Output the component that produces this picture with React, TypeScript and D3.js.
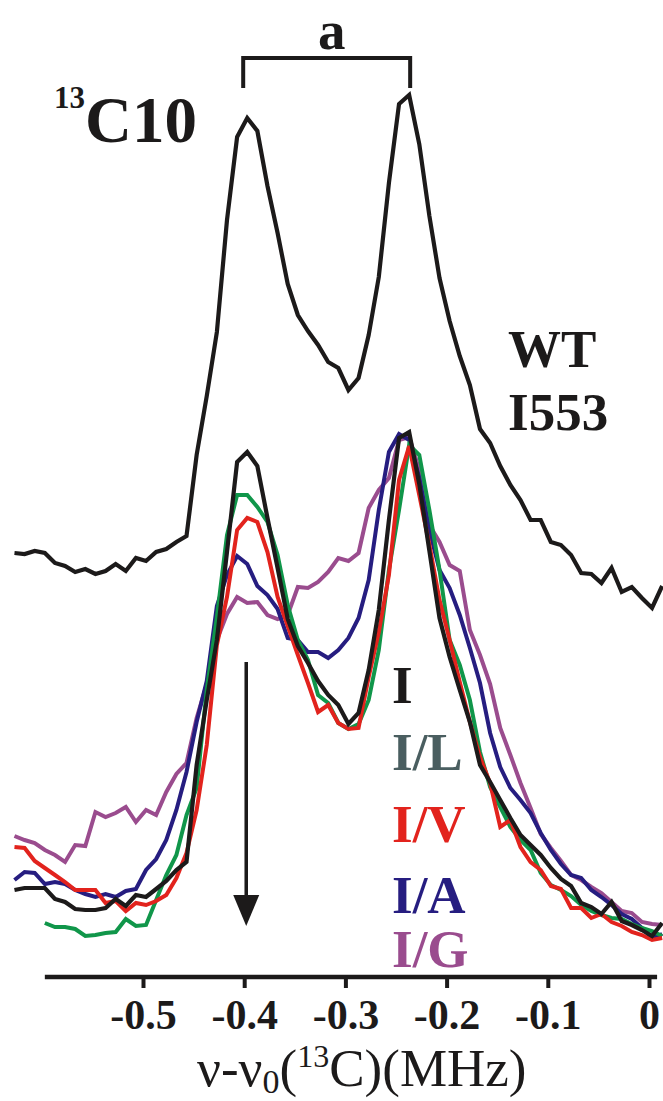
import { useEffect, useRef } from "react";
import * as d3 from "d3";

// frequency offset (MHz) of every sample
const freq = [
  -0.627, -0.617, -0.607, -0.597, -0.587, -0.577, -0.567, -0.557, -0.547, -0.537,
  -0.527, -0.517, -0.507, -0.497, -0.487, -0.477, -0.467, -0.457, -0.447, -0.437,
  -0.427, -0.417, -0.407, -0.397, -0.387, -0.377, -0.367, -0.357, -0.347, -0.337,
  -0.327, -0.317, -0.307, -0.297, -0.287, -0.277, -0.267, -0.257, -0.247, -0.237,
  -0.227, -0.217, -0.207, -0.197, -0.187, -0.177, -0.167, -0.157, -0.147, -0.137,
  -0.127, -0.117, -0.107, -0.097, -0.087, -0.077, -0.067, -0.057, -0.047, -0.037,
  -0.027, -0.017, -0.007, 0.003, 0.013,
];

// intensities (a.u., stacked)
const wtI553 = [
  424, 423, 426, 424, 414, 411, 405, 408, 403, 406,
  413, 406, 419, 416, 425, 428, 435, 441, 522, 581,
  645, 757, 840, 859, 846, 791, 744, 693, 662, 646,
  632, 615, 609, 587, 599, 642, 700, 794, 873, 882,
  833, 761, 699, 656, 621, 592, 548, 534, 511, 492,
  477, 457, 457, 435, 432, 422, 404, 403, 394, 409,
  385, 390, 379, 369, 391,
];
const seriesI = [
  87, 89, 89, 89, 78, 75, 68, 67, 67, 69,
  78, 71, 82, 80, 88, 96, 107, 115, 212, 277,
  337, 425, 515, 525, 511, 459, 409, 358, 331, 314,
  296, 282, 272, 253, 264, 307, 367, 457, 539, 545,
  493, 426, 359, 320, 287, 255, 212, 195, 177, 159,
  142, 132, 122, 109, 98, 91, 74, 70, 63, 75,
  56, 52, 47, 41, 54,
];
const seriesIL = [
  null, null, null, 54, 50, 50, 48, 41, 42, 44,
  45, 58, 51, 52, 77, 102, 122, 162, 189, 287,
  360, 442, 482, 482, 470, 455, 422, 372, 337, 317,
  282, 274, 254, 248, 253, 277, 327, 407, 467, 532,
  522, 467, 407, 337, 312, 277, 225, 190, 170, 150,
  137, 127, 104, 92, 87, 81, 72, 66, 62, 59,
  58, 53, 49, 46, 41,
];
const seriesIV = [
  130, 129, 116, 109, 102, 95, 87, 87, 87, 74,
  76, 66, 74, 72, 76, 82, 99, 124, 167, 232,
  332, 380, 447, 459, 455, 425, 380, 351, 322, 294,
  265, 272, 254, 248, 249, 300, 345, 402, 497, 531,
  482, 432, 377, 337, 295, 255, 220, 194, 150, 157,
  130, 115, 107, 91, 88, 69, 69, 59, 63, 55,
  51, 45, 42, 37, 39,
];
const seriesIA = [
  97, 105, 104, 93, 95, 93, 87, 83, 80, 83,
  80, 86, 88, 107, 118, 137, 167, 205, 255, 296,
  371, 402, 421, 413, 391, 382, 368, 339, 337, 325,
  325, 319, 327, 339, 359, 397, 467, 525, 543, 537,
  499, 447, 407, 389, 362, 329, 294, 244, 210, 189,
  177, 164, 144, 127, 113, 102, 99, 87, 80, 72,
  63, 58, 49, 39, 43,
];
const seriesIG = [
  141, 137, 134, 127, 122, 115, 132, 131, 165, 160,
  164, 170, 155, 167, 162, 185, 203, 214, 259, 293,
  337, 363, 380, 374, 375, 362, 358, 362, 390, 389,
  395, 405, 419, 416, 424, 469, 487, 499, 537, 540,
  507, 452, 435, 412, 406, 347, 322, 293, 249, 222,
  194, 169, 143, 129, 116, 102, 97, 90, 84, 75,
  66, 64, 55, 53, 52,
];

const tickValues = [-0.5, -0.4, -0.3, -0.2, -0.1, 0];
const legendLabels = ["I", "I/L", "I/V", "I/A", "I/G"];
const legendColors = ["#1c1a1a", "#4a5e60", "#e2231d", "#261d80", "#9a4c8e"];
const peakPositions = [-0.4, -0.236];

export default function App() {
  const svgRef = useRef(null);

  useEffect(() => {
    const W = 663, H = 1101;
    const serif = "'Liberation Serif', 'Times New Roman', serif";
    const ink = "#1c1a1a";
    const svg = d3.select(svgRef.current);
    svg.selectAll("*").remove();
    svg.attr("viewBox", `0 0 ${W} ${H}`);

    svg.append("rect").attr("width", W).attr("height", H).attr("fill", "#fff");

    const x = d3.scaleLinear().domain([-0.5, 0]).range([143, 649]);
    const y = d3.scaleLinear().domain([0, 900]).range([977, 77]);

    const line = d3.line<any>()
      .defined(d => d[1] != null)
      .x(d => x(d[0]))
      .y(d => y(d[1]));

    const curves = [
      { data: seriesIG, color: legendColors[4], w: 4 },
      { data: seriesIA, color: legendColors[3], w: 4 },
      { data: seriesIL, color: "#10964a", w: 4 },
      { data: seriesIV, color: legendColors[2], w: 4 },
      { data: seriesI, color: ink, w: 4.2 },
      { data: wtI553, color: ink, w: 4.2 },
    ];
    curves.forEach(c => {
      svg.append("path")
        .datum(freq.map((f, i) => [f, c.data[i]]))
        .attr("fill", "none")
        .attr("stroke", c.color)
        .attr("stroke-width", c.w)
        .attr("stroke-linejoin", "miter")
        .attr("stroke-miterlimit", 2.5)
        .attr("d", line);
    });

    // axis
    const ax = svg.append("g").attr("transform", `translate(0,${y(0)})`)
      .call(d3.axisBottom(x).tickValues(tickValues).tickSize(11).tickSizeOuter(0).tickPadding(11)
        .tickFormat(d => `${d}`));
    ax.select(".domain").remove();
    ax.selectAll("line").attr("stroke", ink).attr("stroke-width", 4);
    ax.selectAll("text").attr("fill", ink).attr("font-family", serif)
      .attr("font-weight", "bold").attr("font-size", 42).attr("dy", "0.71em");
    ax.append("line").attr("x1", x(-0.597)).attr("x2", x(0.008)).attr("y1", 0).attr("y2", 0)
      .attr("stroke", ink).attr("stroke-width", 4.5);

    // axis title
    const t = svg.append("text").attr("x", 197).attr("y", 1086)
      .attr("font-family", serif).attr("font-size", 53).attr("fill", ink);
    t.append("tspan").text("\u03bd-\u03bd");
    t.append("tspan").attr("font-size", 34).attr("dy", 7).text("0");
    t.append("tspan").attr("dy", -7).text("(");
    t.append("tspan").attr("font-size", 32).attr("dy", -19).text("13");
    t.append("tspan").attr("dy", 19).text("C)(MHz)");

    // bracket and "a"
    const bx0 = x(peakPositions[0]) - 1, bx1 = x(peakPositions[1]);
    svg.append("path").attr("d", `M${bx0},88V58H${bx1}V88`)
      .attr("fill", "none").attr("stroke", ink).attr("stroke-width", 4);
    svg.append("text").attr("x", (bx0 + bx1) / 2 + 5).attr("y", 49).attr("text-anchor", "middle")
      .attr("font-family", serif).attr("font-weight", "bold").attr("font-size", 55)
      .attr("fill", ink).text("a");

    // 13C10 label
    const lab = svg.append("text").attr("x", 54).attr("y", 142)
      .attr("font-family", serif).attr("font-weight", "bold").attr("fill", ink);
    lab.append("tspan").attr("font-size", 31).attr("dy", -34).text("13");
    lab.append("tspan").attr("font-size", 65).attr("dy", 34).text("C10");

    // WT I553
    ["WT", "I553"].forEach((s, i) => {
      svg.append("text").attr("x", 508).attr("y", 367 + i * 63)
        .attr("font-family", serif).attr("font-weight", "bold").attr("font-size", 53)
        .attr("fill", ink).text(s);
    });

    // legend
    const legY = [703, 770, 842, 913, 967];
    legendLabels.forEach((s, i) => {
      svg.append("text").attr("x", 392).attr("y", legY[i])
        .attr("font-family", serif).attr("font-weight", "bold").attr("font-size", 53)
        .attr("fill", legendColors[i]).text(s);
    });

    // arrow
    const axr = x(-0.398);
    svg.append("line").attr("x1", axr).attr("x2", axr).attr("y1", 662).attr("y2", 900)
      .attr("stroke", ink).attr("stroke-width", 3.5);
    svg.append("path").attr("d", `M${axr - 13},895L${axr + 13},895L${axr},926Z`).attr("fill", ink);
  }, []);

  return (
    <svg ref={svgRef} width={663} height={1101}
      style={{ position: "absolute", left: 0, top: 0, display: "block" }} />
  );
}
